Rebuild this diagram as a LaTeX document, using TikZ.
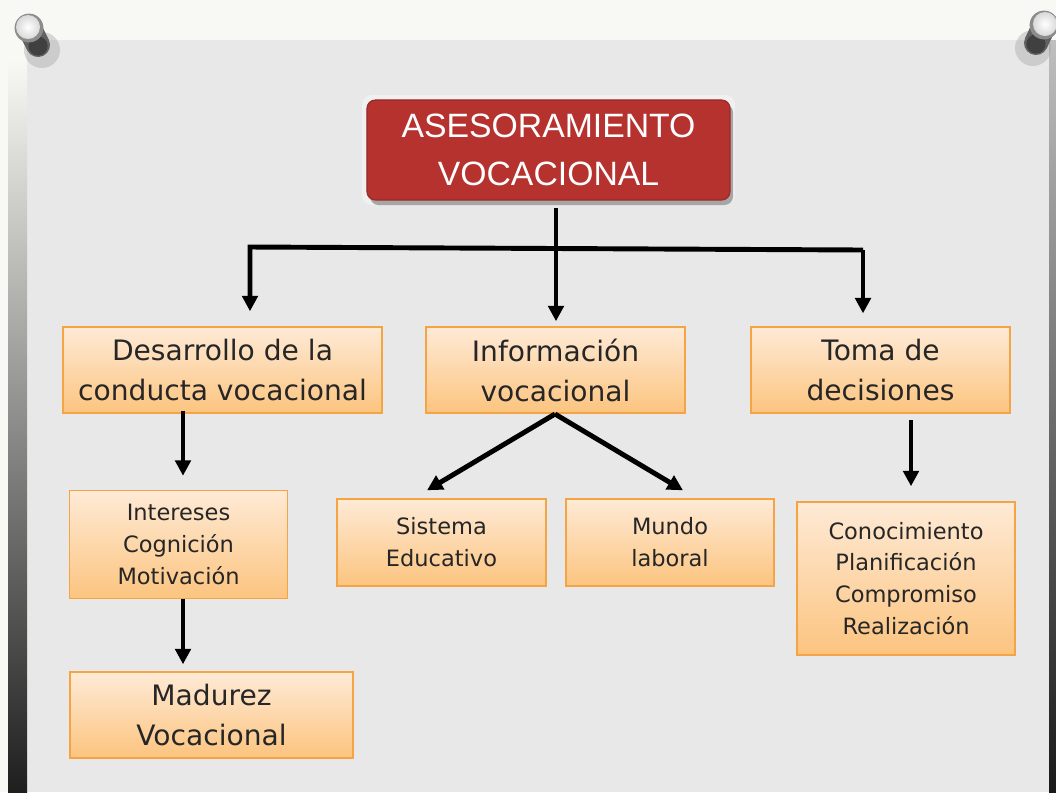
\documentclass[tikz,border=0pt]{standalone}
\usepackage{fontspec}
\setmainfont{DejaVu Sans}
\newfontfamily\titlefont{Liberation Sans}
\usetikzlibrary{arrows.meta,calc}

\definecolor{paper}{HTML}{E8E8E8}
\definecolor{frame}{HTML}{F8F8F4}
\definecolor{titlered}{HTML}{B5322E}
\definecolor{boxtop}{HTML}{FEEAD6}
\definecolor{boxbot}{HTML}{FCC47F}
\definecolor{boxline}{HTML}{F5A445}
\definecolor{txt}{HTML}{262626}

\begin{document}
\begin{tikzpicture}[x=0.025cm,y=-0.025cm,
  obox/.style={draw=boxline, line width=1pt, top color=boxtop, bottom color=boxbot,
    inner sep=0pt, align=center, text=txt},
  bigtxt/.style={font=\fontsize{20}{28.5}\selectfont},
  smalltxt/.style={font=\fontsize{16}{22.7}\selectfont},
  arr/.style={line width=3.5pt, -{Triangle[width=11pt,length=11pt]}},
]
\useasboundingbox (0,0) rectangle (1056,792);
% background
\fill[frame] (0,0) rectangle (1056,792);
\fill[paper] (27,40) rectangle (1049,792);
\shade[top color=frame, middle color=black!38, bottom color=black!88] (8,60) rectangle (27,792);
\shade[top color=black!25, bottom color=black!90] (1049,40) rectangle (1056,792);

% pins
\fill[black!40, opacity=.35] (42,50) circle (0.45cm);
\draw[black!62, line width=0.6cm, line cap=round] (30,29) -- (38,45);
\fill[black!75] (38,46) circle (0.24cm);
\fill[black!45] (29,28) circle (0.36cm);
\shade[inner color=white, outer color=black!15] (28,27) circle (0.3cm);

\fill[black!40, opacity=.35] (1033,48) circle (0.45cm);
\draw[black!62, line width=0.6cm, line cap=round] (1044,26) -- (1036,43);
\fill[black!75] (1036,44) circle (0.24cm);
\fill[black!45] (1044,25) circle (0.36cm);
\shade[inner color=white, outer color=black!15] (1045,24) circle (0.3cm);

% title
\fill[white, opacity=.35, rounded corners=7pt] (362,95) rectangle (735,205);
\fill[black!70, opacity=.45, rounded corners=6pt] (370,104) rectangle (733,205);
\node[fill=titlered, draw=titlered!85!black, line width=0.8pt, rounded corners=6pt,
  minimum width=9.075cm, minimum height=2.5cm, inner sep=0pt, align=center, text=white,
  font=\titlefont\fontsize{24}{34}\selectfont] (title) at (548.5,150) {ASESORAMIENTO\\VOCACIONAL};

% boxes
\node[obox, bigtxt, minimum width=7.975cm, minimum height=2.15cm] (D1) at (222.5,370) {Desarrollo de la\\conducta vocacional};
\node[obox, bigtxt, minimum width=6.475cm, minimum height=2.15cm] (D2) at (555.5,370) {Información\\vocacional};
\node[obox, bigtxt, minimum width=6.475cm, minimum height=2.15cm] (D3) at (880.5,370) {Toma de\\decisiones};
\node[obox, smalltxt, minimum width=5.45cm, minimum height=2.7cm] (E1) at (178.5,544.5) {Intereses\\Cognición\\Motivación};
\node[obox, smalltxt, minimum width=5.225cm, minimum height=2.175cm] (E2) at (441.5,542.5) {Sistema\\Educativo};
\node[obox, smalltxt, minimum width=5.2cm, minimum height=2.175cm] (E3) at (670,542.5) {Mundo\\laboral};
\node[obox, smalltxt, minimum width=5.45cm, minimum height=3.825cm] (E4) at (906,578.5) {Conocimiento\\Planificación\\Compromiso\\Realización};
\node[obox, bigtxt, minimum width=7.075cm, minimum height=2.15cm] (F) at (211.5,715) {Madurez\\Vocacional};

% connectors
\coordinate (t0) at (556,208);
\coordinate (bl) at (250,247);
\coordinate (br) at (863,250);
\draw[arr, shorten >=3.6pt] (t0) -- (t0 |- D2.north);
\draw[arr, shorten >=10.7pt] (br) -- (bl) -- (bl |- D1.north);
\draw[arr, shorten >=9.2pt] (br) -- (br |- D3.north);

\coordinate (d1s) at (183,411);
\draw[arr, shorten >=10pt] (d1s) -- (d1s |- E1.north);
\coordinate (e1s) at (183,599);
\draw[arr, shorten >=5pt] (e1s) -- (e1s |- F.north);

\coordinate (d2s) at (555,414);
\draw[arr] (d2s) -- ($(E2.north)+(-14.5,-8)$);
\draw[arr] (d2s) -- ($(E3.north)+(13,-8)$);

\coordinate (d3s) at (911,420);
\draw[arr, shorten >=10.7pt] (d3s) -- (d3s |- E4.north);
\end{tikzpicture}
\end{document}
